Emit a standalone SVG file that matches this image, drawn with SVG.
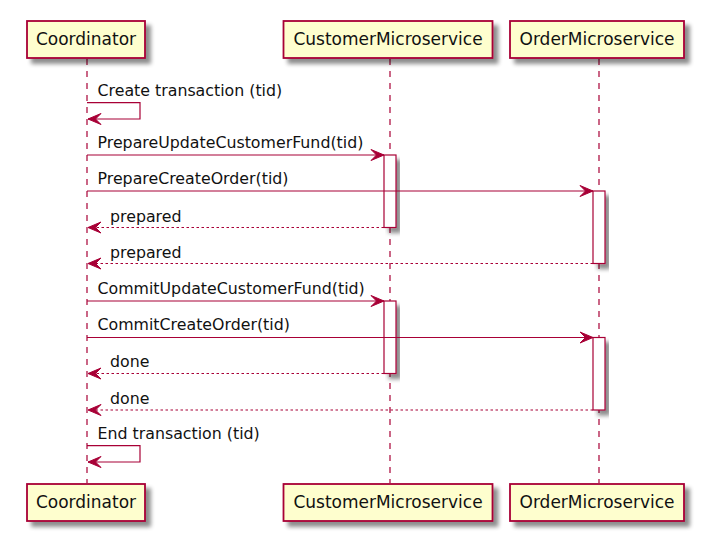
<svg xmlns="http://www.w3.org/2000/svg" width="726" height="550" viewBox="0 0 726 550">
<defs>
<filter id="sh" x="-20%" y="-20%" width="150%" height="160%">
<feGaussianBlur in="SourceAlpha" stdDeviation="2"/>
<feOffset dx="4.5" dy="4.5" result="b"/>
<feComponentTransfer><feFuncA type="linear" slope="0.45"/></feComponentTransfer>
<feMerge><feMergeNode/><feMergeNode in="SourceGraphic"/></feMerge>
</filter>
<marker id="ar" viewBox="-1 -1 15 13" refX="13" refY="5.5" markerWidth="15" markerHeight="13" markerUnits="userSpaceOnUse" orient="auto">
<polygon points="0,0 13,5.5 0,11 5.5,5.5" fill="#A80036" stroke="#A80036" stroke-width="1" stroke-linejoin="miter"/>
</marker>
</defs>
<style>
.box{fill:#FEFECE;stroke:#A80036;stroke-width:1.8}
.pt{font-family:"DejaVu Sans",sans-serif;font-size:17px;fill:#111;text-anchor:middle}
.life{stroke:#A80036;stroke-width:1.2;stroke-dasharray:6,6;fill:none}
.act{fill:#FFFFFF;stroke:#A80036;stroke-width:1.2}
.msg{stroke:#A80036;stroke-width:1.2;fill:none}
.ret{stroke:#A80036;stroke-width:1.2;fill:none;stroke-dasharray:2.5,2.5}
.mt{font-family:"DejaVu Sans",sans-serif;font-size:15.8px;fill:#111}
</style>
<rect width="726" height="550" fill="#FFFFFF"/>
<g id="lifelines">
<line class="life" x1="87" y1="59" x2="87" y2="483"/>
<line class="life" x1="390" y1="59" x2="390" y2="483"/>
<line class="life" x1="599" y1="59" x2="599" y2="483"/>
</g>
<g id="Coordinator">
<rect class="box" x="27" y="21" width="118" height="37" filter="url(#sh)"/>
<text class="pt" x="86" y="45">Coordinator</text>
<rect class="box" x="27" y="484" width="118" height="37" filter="url(#sh)"/>
<text class="pt" x="86" y="508">Coordinator</text>
</g>
<g id="CustomerMicroservice">
<rect class="box" x="283.5" y="21" width="209" height="37" filter="url(#sh)"/>
<text class="pt" x="388" y="45">CustomerMicroservice</text>
<rect class="box" x="283.5" y="484" width="209" height="37" filter="url(#sh)"/>
<text class="pt" x="388" y="508">CustomerMicroservice</text>
<rect class="act" x="384" y="155" width="12" height="72.5" filter="url(#sh)"/>
<rect class="act" x="384" y="301" width="12" height="72.5" filter="url(#sh)"/>
</g>
<g id="OrderMicroservice">
<rect class="box" x="510" y="21" width="174" height="37" filter="url(#sh)"/>
<text class="pt" x="597" y="45">OrderMicroservice</text>
<rect class="box" x="510" y="484" width="174" height="37" filter="url(#sh)"/>
<text class="pt" x="597" y="508">OrderMicroservice</text>
<rect class="act" x="593" y="191" width="12" height="72.5" filter="url(#sh)"/>
<rect class="act" x="593" y="337.5" width="12" height="72.5" filter="url(#sh)"/>
</g>
<g id="connectors">
<path class="msg" d="M87,102.7 H140 V119 H88" marker-end="url(#ar)"/>
<text class="mt" x="97.5" y="95.7">Create transaction (tid)</text>
<path class="msg" d="M87,155 H384" marker-end="url(#ar)"/>
<text class="mt" x="97.5" y="147.5">PrepareUpdateCustomerFund(tid)</text>
<path class="msg" d="M87,191 H593" marker-end="url(#ar)"/>
<text class="mt" x="97.5" y="183.5">PrepareCreateOrder(tid)</text>
<path class="ret" d="M384,227.5 H88" marker-end="url(#ar)"/>
<text class="mt" x="110" y="221.5">prepared</text>
<path class="ret" d="M593,263.5 H88" marker-end="url(#ar)"/>
<text class="mt" x="110" y="257.5">prepared</text>
<path class="msg" d="M87,301 H384" marker-end="url(#ar)"/>
<text class="mt" x="97.5" y="293.5">CommitUpdateCustomerFund(tid)</text>
<path class="msg" d="M87,337.5 H593" marker-end="url(#ar)"/>
<text class="mt" x="97.5" y="330">CommitCreateOrder(tid)</text>
<path class="ret" d="M384,373.5 H88" marker-end="url(#ar)"/>
<text class="mt" x="110" y="367">done</text>
<path class="ret" d="M593,410 H88" marker-end="url(#ar)"/>
<text class="mt" x="110" y="403.5">done</text>
<path class="msg" d="M87,445.7 H140 V462 H88" marker-end="url(#ar)"/>
<text class="mt" x="97.5" y="439">End transaction (tid)</text>
</g>
</svg>
